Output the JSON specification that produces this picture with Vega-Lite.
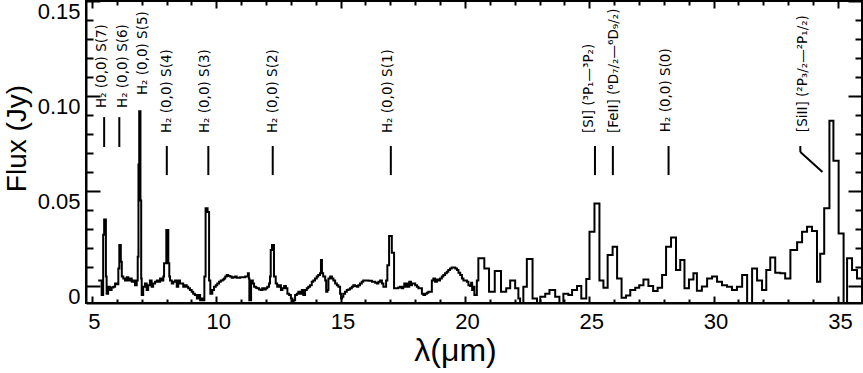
{
  "$schema": "https://vega.github.io/schema/vega-lite/v6.json",
  "width": 776,
  "height": 302,
  "autosize": "none",
  "padding": {"left": 86, "top": 1, "right": 1, "bottom": 70},
  "background": "white",
  "config": {
    "view": {"stroke": "black", "strokeWidth": 2},
    "axis": {
      "domainColor": "black", "domainWidth": 2,
      "tickColor": "black", "tickWidth": 2,
      "labelColor": "black", "labelFont": "Liberation Sans", "labelFontSize": 22,
      "titleColor": "black", "titleFont": "Liberation Sans", "titleFontWeight": "normal",
      "grid": false, "labelOverlap": false, "labelFlush": false
    }
  },
  "datasets": {
    "spec": [
      {"l":5.25,"f":0.003},{"l":5.39,"f":-0.0047},{"l":5.45,"f":0.027},{"l":5.49,"f":0.035},{"l":5.56,"f":0.005},{"l":5.59,"f":-0.004},{"l":5.65,"f":-0.0003},{"l":5.72,"f":-0.002},{"l":5.79,"f":-0.0007},{"l":5.86,"f":-0.0003},{"l":5.93,"f":0.0014},{"l":6.0,"f":0.001},{"l":6.06,"f":0.0093},{"l":6.10,"f":0.0216},{"l":6.16,"f":0.0128},{"l":6.20,"f":0.005},{"l":6.26,"f":0.004},{"l":6.33,"f":0.003},{"l":6.40,"f":0.0046},{"l":6.46,"f":0.003},{"l":6.53,"f":0.004},{"l":6.60,"f":0.0023},{"l":6.66,"f":0.003},{"l":6.73,"f":0.0005},{"l":6.80,"f":0.003},{"l":6.84,"f":0.0154},{"l":6.87,"f":0.064},{"l":6.90,"f":0.092},{"l":6.95,"f":0.045},{"l":6.98,"f":0.004},{"l":7.0,"f":-0.0047},{"l":7.06,"f":-0.0004},{"l":7.13,"f":0.0014},{"l":7.2,"f":-0.002},{"l":7.26,"f":0.0005},{"l":7.33,"f":0.003},{"l":7.40,"f":-0.0003},{"l":7.46,"f":0.0014},{"l":7.54,"f":0.0023},{"l":7.61,"f":0.003},{"l":7.67,"f":0.0023},{"l":7.74,"f":0.004},{"l":7.81,"f":0.003},{"l":7.87,"f":0.005},{"l":7.90,"f":0.012},{"l":7.99,"f":0.0295},{"l":8.07,"f":0.012},{"l":8.11,"f":0.005},{"l":8.14,"f":0.003},{"l":8.21,"f":0.0014},{"l":8.27,"f":0.0023},{"l":8.34,"f":0.003},{"l":8.41,"f":-0.0003},{"l":8.47,"f":0.003},{"l":8.54,"f":0.0014},{"l":8.67,"f":-0.0003},{"l":8.74,"f":0.0005},{"l":8.81,"f":-0.0003},{"l":8.87,"f":-0.0012},{"l":8.94,"f":-0.002},{"l":9.01,"f":-0.003},{"l":9.07,"f":-0.004},{"l":9.14,"f":-0.0047},{"l":9.22,"f":-0.0065},{"l":9.28,"f":-0.0047},{"l":9.35,"f":-0.0074},{"l":9.42,"f":-0.0065},{"l":9.48,"f":-0.0074},{"l":9.52,"f":0.005},{"l":9.57,"f":0.041},{"l":9.65,"f":0.039},{"l":9.71,"f":0.003},{"l":9.76,"f":-0.004},{"l":9.84,"f":-0.002},{"l":9.91,"f":-0.0003},{"l":9.98,"f":0.0005},{"l":10.04,"f":0.0014},{"l":10.11,"f":0.0023},{"l":10.18,"f":0.003},{"l":10.26,"f":0.0035},{"l":10.31,"f":0.004},{"l":10.36,"f":0.005},{"l":10.42,"f":0.0058},{"l":10.48,"f":0.0053},{"l":10.55,"f":0.005},{"l":10.62,"f":0.0044},{"l":10.68,"f":0.0046},{"l":10.75,"f":0.005},{"l":10.82,"f":0.0044},{"l":10.96,"f":0.0046},{"l":11.16,"f":0.005},{"l":11.27,"f":0.0067},{"l":11.31,"f":0.004},{"l":11.33,"f":-0.0074},{"l":11.40,"f":0.003},{"l":11.47,"f":0.0014},{"l":11.52,"f":-0.0003},{"l":11.59,"f":-0.0009},{"l":11.65,"f":-0.0012},{"l":11.72,"f":-0.0018},{"l":11.79,"f":-0.002},{"l":11.85,"f":-0.0012},{"l":11.92,"f":-0.0018},{"l":11.99,"f":-0.0012},{"l":12.05,"f":-0.0003},{"l":12.12,"f":0.0014},{"l":12.16,"f":0.005},{"l":12.19,"f":0.019},{"l":12.24,"f":0.0216},{"l":12.32,"f":0.005},{"l":12.39,"f":0.0014},{"l":12.45,"f":-0.0003},{"l":12.52,"f":0.0005},{"l":12.60,"f":-0.002},{"l":12.66,"f":-0.0012},{"l":12.73,"f":0},{"l":12.80,"f":-0.0012},{"l":12.86,"f":-0.004},{"l":12.93,"f":-0.0047},{"l":13.0,"f":-0.0065},{"l":13.06,"f":-0.009},{"l":13.11,"f":-0.0074},{"l":13.17,"f":-0.0047},{"l":13.24,"f":-0.004},{"l":13.30,"f":-0.003},{"l":13.37,"f":-0.004},{"l":13.44,"f":-0.002},{"l":13.50,"f":-0.0047},{"l":13.57,"f":-0.002},{"l":13.64,"f":-0.0012},{"l":13.70,"f":-0.0003},{"l":13.77,"f":0.0005},{"l":13.84,"f":0.0023},{"l":13.90,"f":0.003},{"l":13.97,"f":0.004},{"l":14.04,"f":0.005},{"l":14.10,"f":0.0058},{"l":14.17,"f":0.0067},{"l":14.21,"f":0.0137},{"l":14.25,"f":0.0067},{"l":14.30,"f":0.005},{"l":14.38,"f":0.003},{"l":14.42,"f":-0.003},{"l":14.47,"f":-0.002},{"l":14.51,"f":0.004},{"l":14.58,"f":0.005},{"l":14.65,"f":0.004},{"l":14.71,"f":0.003},{"l":14.78,"f":0.0014},{"l":14.85,"f":0.0005},{"l":14.91,"f":-0.0003},{"l":14.98,"f":-0.004},{"l":15.02,"f":-0.0065},{"l":15.06,"f":-0.0056},{"l":15.11,"f":-0.004},{"l":15.18,"f":-0.003},{"l":15.25,"f":-0.002},{"l":15.31,"f":-0.0018},{"l":15.38,"f":-0.0012},{"l":15.45,"f":-0.0003},{"l":15.51,"f":0.0005},{"l":15.58,"f":0},{"l":15.65,"f":-0.0003},{"l":15.71,"f":0.0005},{"l":15.78,"f":0.0014},{"l":15.85,"f":0.0023},{"l":15.91,"f":0.003},{"l":16.12,"f":0.0028},{"l":16.26,"f":0.0023},{"l":16.39,"f":0.0018},{"l":16.46,"f":0.0014},{"l":16.52,"f":0.0023},{"l":16.59,"f":0.003},{"l":16.66,"f":0.0014},{"l":16.72,"f":-0.0003},{"l":16.83,"f":0.003},{"l":16.88,"f":0.011},{"l":16.95,"f":0.0263},{"l":17.06,"f":0.0175},{"l":17.15,"f":-0.0012},{"l":17.32,"f":-0.0007},{"l":17.39,"f":-0.0003},{"l":17.46,"f":-0.0012},{"l":17.52,"f":-0.0003},{"l":17.56,"f":0.0014},{"l":17.62,"f":-0.0003},{"l":17.66,"f":0.0014},{"l":17.72,"f":-0.0003},{"l":17.76,"f":0.0023},{"l":17.83,"f":0.0005},{"l":17.87,"f":0.0014},{"l":18.0,"f":0.0005},{"l":18.07,"f":-0.0003},{"l":18.13,"f":-0.0012},{"l":18.27,"f":-0.004},{"l":18.33,"f":-0.0047},{"l":18.40,"f":-0.004},{"l":18.47,"f":-0.0035},{"l":18.53,"f":-0.003},{"l":18.67,"f":0.003},{"l":18.73,"f":0.004},{"l":18.80,"f":0.0023},{"l":18.87,"f":0.0035},{"l":18.93,"f":0.003},{"l":19.0,"f":0.004},{"l":19.07,"f":0.005},{"l":19.13,"f":0.0058},{"l":19.20,"f":0.0067},{"l":19.27,"f":0.0075},{"l":19.33,"f":0.0084},{"l":19.40,"f":0.0093},{"l":19.47,"f":0.0098},{"l":19.61,"f":0.0093},{"l":19.68,"f":0.0084},{"l":19.74,"f":0.007},{"l":19.81,"f":0.0058},{"l":19.88,"f":0.004},{"l":19.94,"f":0.003},{"l":20.08,"f":0.0023},{"l":20.14,"f":0.0005},{"l":20.21,"f":0},{"l":20.25,"f":0.0018},{"l":20.29,"f":-0.002},{"l":20.34,"f":-0.0003},{"l":20.38,"f":-0.0047},{"l":20.48,"f":0.003},
      {"l":20.54,"f":0.0146},{"l":20.78,"f":0.0093},{"l":20.97,"f":-0.003},{"l":21.2,"f":0.008},{"l":21.45,"f":-0.003},{"l":21.66,"f":-0.0012},{"l":21.82,"f":0.003},{"l":22.02,"f":-0.0012},{"l":22.15,"f":-0.0065},{"l":22.22,"f":-0.0095},{"l":22.35,"f":-0.0004},{"l":22.49,"f":0.0142},{"l":22.72,"f":-0.0065},{"l":22.90,"f":-0.009},{"l":23.03,"f":-0.0056},{"l":23.23,"f":-0.004},{"l":23.40,"f":-0.002},{"l":23.63,"f":-0.0056},{"l":23.80,"f":-0.009},{"l":23.96,"f":-0.004},{"l":24.16,"f":-0.0047},{"l":24.31,"f":-0.002},{"l":24.51,"f":0},{"l":24.68,"f":-0.0065},{"l":24.88,"f":0.0037},{"l":25.01,"f":0.0286},{"l":25.21,"f":0.0435},{"l":25.41,"f":0.003},{"l":25.57,"f":-0.0009},{"l":25.74,"f":0.0163},{"l":25.94,"f":0.0207},{"l":26.12,"f":0.004},{"l":26.30,"f":-0.0062},{"l":26.48,"f":-0.005},{"l":26.65,"f":-0.002},{"l":26.85,"f":-0.0009},{"l":27.01,"f":0.0005},{"l":27.18,"f":0.0035},{"l":27.38,"f":0},{"l":27.57,"f":-0.0026},{"l":27.75,"f":-0.0009},{"l":27.93,"f":0.0058},{"l":28.09,"f":0.0207},{"l":28.29,"f":0.0256},{"l":28.49,"f":0.0084},{"l":28.66,"f":0.0137},{"l":28.83,"f":-0.0012},{"l":29.01,"f":0.0035},{"l":29.19,"f":0.0067},{"l":29.33,"f":-0.0025},{"l":29.53,"f":-0.0002},{"l":29.74,"f":0.004},{"l":29.94,"f":0.005},{"l":30.14,"f":0.0023},{"l":30.34,"f":0.0005},{"l":30.54,"f":-0.0003},{"l":30.74,"f":-0.002},{"l":30.94,"f":-0.0003},{"l":31.15,"f":0.0058},{"l":31.35,"f":-0.009},{"l":31.55,"f":0.0093},{"l":31.75,"f":0.003},{"l":31.95,"f":-0.002},{"l":32.12,"f":0.0084},{"l":32.28,"f":0.015},{"l":32.48,"f":0.007},{"l":32.68,"f":0.0067},{"l":32.88,"f":0.004},{"l":33.09,"f":0.019},{"l":33.36,"f":0.023},{"l":33.56,"f":0.0286},{"l":33.76,"f":0.0312},{"l":33.96,"f":0.029},{"l":34.16,"f":0.0023},{"l":34.29,"f":0.017},{"l":34.45,"f":0.0409},{"l":34.66,"f":0.087},{"l":34.82,"f":0.066},{"l":35.03,"f":0.0277},{"l":35.23,"f":-0.009},{"l":35.37,"f":0.0146},{"l":35.57,"f":0.0084},{"l":35.77,"f":0.004},{"l":35.97,"f":0.004}
    ],
    "markers": [
      {"l":5.49,"l2":5.49,"y1":0.0732,"y2":0.0889},
      {"l":6.10,"l2":6.10,"y1":0.0732,"y2":0.0889},
      {"l":8.01,"l2":8.01,"y1":0.0584,"y2":0.0737},
      {"l":9.68,"l2":9.68,"y1":0.0584,"y2":0.0737},
      {"l":12.27,"l2":12.27,"y1":0.0584,"y2":0.0737},
      {"l":17.02,"l2":17.02,"y1":0.0584,"y2":0.0737},
      {"l":25.23,"l2":25.23,"y1":0.0584,"y2":0.0737},
      {"l":25.95,"l2":25.95,"y1":0.0584,"y2":0.0737},
      {"l":28.19,"l2":28.19,"y1":0.0584,"y2":0.0737},
      {"l":33.49,"l2":33.49,"y1":0.0705,"y2":0.0737},
      {"l":33.49,"l2":34.38,"y1":0.0705,"y2":0.06}
    ],
    "labels": [
      {"l":5.42,"f":0.0937,"t":"H₂ (0,0) S(7)"},
      {"l":6.25,"f":0.0937,"t":"H₂ (0,0) S(6)"},
      {"l":7.05,"f":0.1005,"t":"H₂ (0,0) S(5)"},
      {"l":8.0,"f":0.0805,"t":"H₂ (0,0) S(4)"},
      {"l":9.55,"f":0.0805,"t":"H₂ (0,0) S(3)"},
      {"l":12.27,"f":0.0805,"t":"H₂ (0,0) S(2)"},
      {"l":16.92,"f":0.0805,"t":"H₂ (0,0) S(1)"},
      {"l":25.0,"f":0.0805,"t":"[SI] (³P₁—³P₂)"},
      {"l":26.0,"f":0.0805,"t":"[FeII] (⁶D₇/₂—⁶D₉/₂)"},
      {"l":28.1,"f":0.081,"t":"H₂ (0,0) S(0)"},
      {"l":33.61,"f":0.081,"t":"[SiII] (²P₃/₂—²P₁/₂)"}
    ]
  },
  "resolve": {"axis": {"x": "independent", "y": "independent"}},
  "layer": [
    {
      "data": {"name": "spec"},
      "mark": {"type": "line", "interpolate": "step-after", "color": "black", "strokeWidth": 2, "clip": true},
      "encoding": {
        "x": {"field": "l", "type": "quantitative",
          "scale": {"domain": [4.76, 35.97], "nice": false, "zero": false},
          "axis": {
            "orient": "bottom",
            "values": [5,6,7,8,9,10,11,12,13,14,15,16,17,18,19,20,21,22,23,24,25,26,27,28,29,30,31,32,33,34,35],
            "labelExpr": "datum.value % 5 == 0 ? datum.label : ''",
            "tickSize": {"condition": {"test": "datum.value % 5 == 0", "value": -7}, "value": -4},
            "labelPadding": 15, "labelOffset": 2,
            "title": "λ(μm)", "titleFontSize": 32,
            "titleX": 369, "titleY": 57, "titleAlign": "center", "titleBaseline": "alphabetic", "titleAnchor": null
          }
        },
        "y": {"field": "f", "type": "quantitative",
          "scale": {"domain": [-0.0089, 0.15], "nice": false, "zero": false},
          "axis": {
            "orient": "left",
            "values": [0,0.01,0.02,0.03,0.04,0.05,0.06,0.07,0.08,0.09,0.1,0.11,0.12,0.13,0.14,0.15],
            "labelExpr": "abs(datum.value*20 - round(datum.value*20)) < 0.000001 ? (datum.value == 0 ? '0' : format(datum.value, '.2f')) : ''",
            "tickSize": {"condition": {"test": "abs(datum.value*20 - round(datum.value*20)) < 0.000001", "value": -14}, "value": -7},
            "labelPadding": 20, "labelOffset": 10,
            "title": "Flux (Jy)", "titleFontSize": 28,
            "titleX": -61, "titleY": 137, "titleAngle": 270, "titleAlign": "center", "titleBaseline": "alphabetic", "titleAnchor": null
          }
        }
      }
    },
    {
      "data": {"name": "markers"},
      "mark": {"type": "rule", "color": "black", "strokeWidth": 2},
      "encoding": {
        "x": {"field": "l", "type": "quantitative",
          "axis": {
            "orient": "top",
            "values": [5,6,7,8,9,10,11,12,13,14,15,16,17,18,19,20,21,22,23,24,25,26,27,28,29,30,31,32,33,34,35],
            "labels": false, "title": null, "domain": false,
            "tickSize": {"condition": {"test": "datum.value % 5 == 0", "value": -7}, "value": -4}
          }
        },
        "x2": {"field": "l2"},
        "y": {"field": "y1", "type": "quantitative",
          "axis": {
            "orient": "right",
            "values": [0,0.01,0.02,0.03,0.04,0.05,0.06,0.07,0.08,0.09,0.1,0.11,0.12,0.13,0.14,0.15],
            "labels": false, "title": null, "domain": false,
            "tickSize": {"condition": {"test": "abs(datum.value*20 - round(datum.value*20)) < 0.000001", "value": -14}, "value": -7}
          }
        },
        "y2": {"field": "y2"}
      }
    },
    {
      "data": {"name": "labels"},
      "mark": {"type": "text", "angle": 270, "align": "left", "baseline": "middle", "font": "DejaVu Sans", "fontSize": 13.5, "color": "black"},
      "encoding": {
        "x": {"field": "l", "type": "quantitative", "axis": null},
        "y": {"field": "f", "type": "quantitative", "axis": null},
        "text": {"field": "t"}
      }
    }
  ]
}
